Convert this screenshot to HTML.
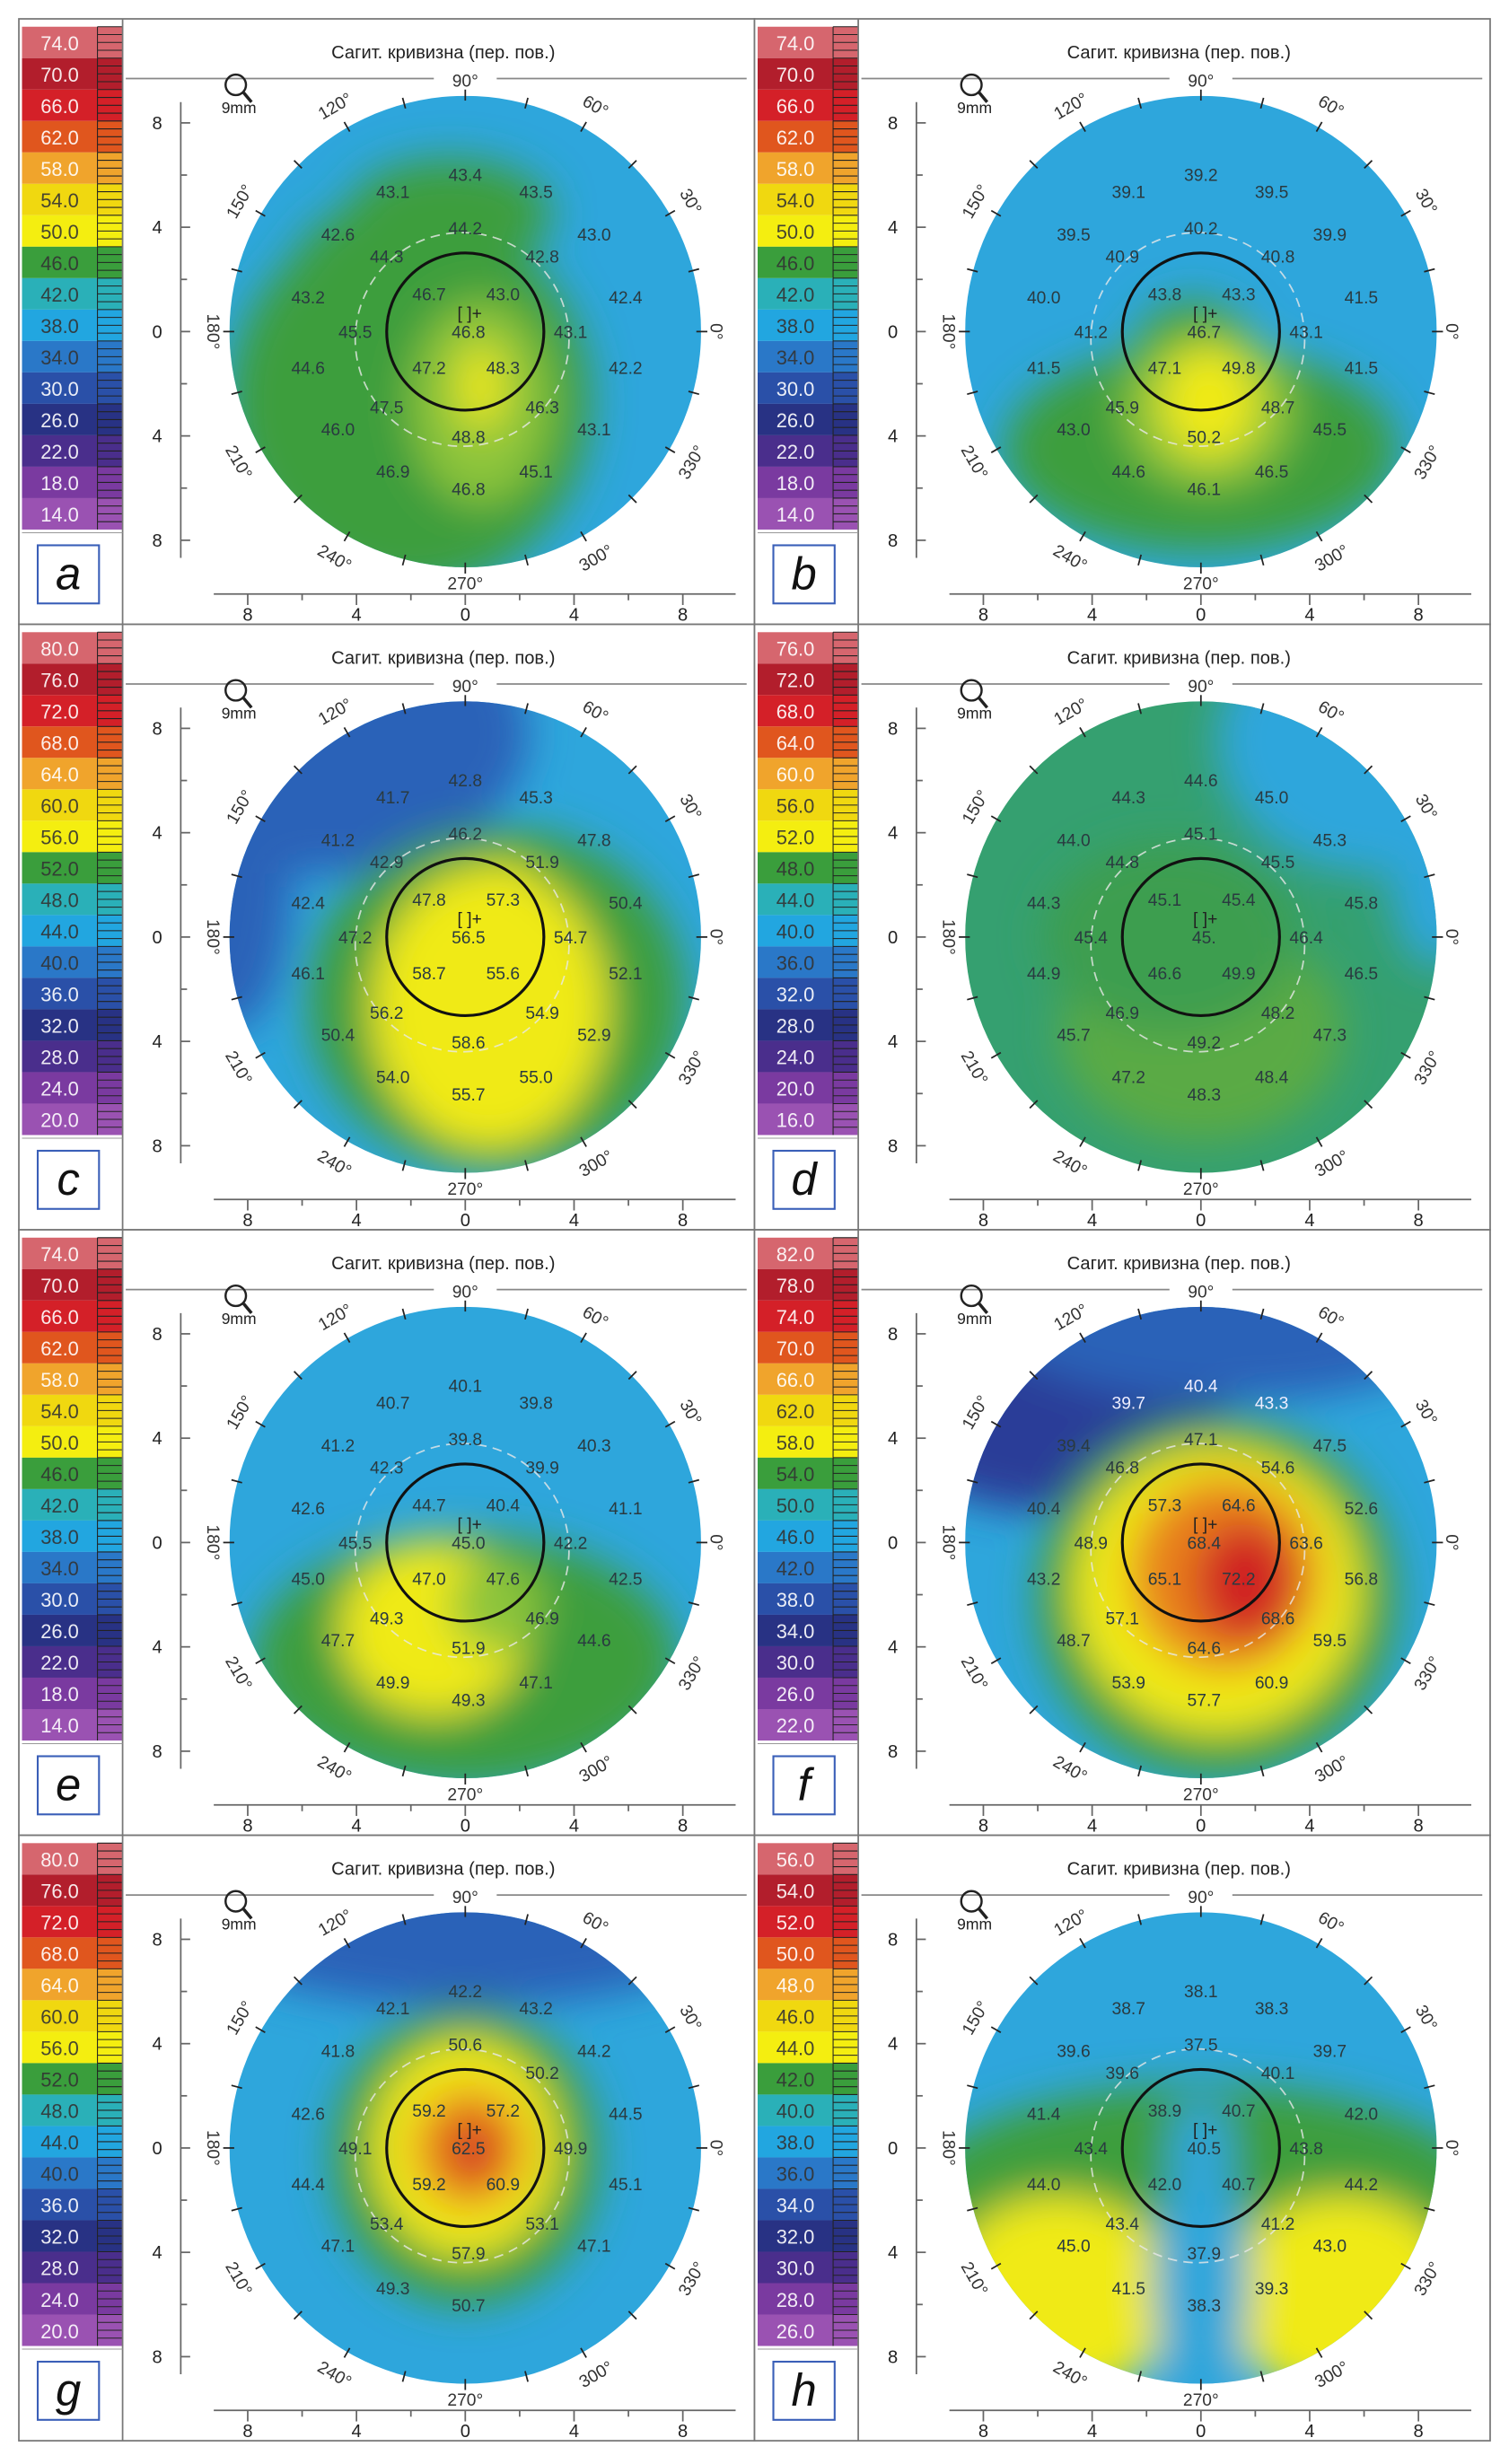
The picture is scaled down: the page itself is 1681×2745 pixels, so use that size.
<!DOCTYPE html>
<html><head><meta charset="utf-8"><style>
html,body{margin:0;padding:0;background:#fff}
svg{display:block}
text{font-family:"Liberation Sans","DejaVu Sans",sans-serif}
</style></head><body>
<svg id="s" width="1681" height="2745" viewBox="0 0 960 1568" preserveAspectRatio="none" xmlns="http://www.w3.org/2000/svg">
<defs><filter id="bl" x="-30%" y="-30%" width="160%" height="160%"><feGaussianBlur stdDeviation="13"/></filter></defs>
<g id="root"></g>
</svg>
<script>
const cols=['#d6666e','#b21e2c','#d42028','#e0561e','#f0a42c','#f0d810','#f4ee10','#3a9e3c','#2ab0b8','#22a6e0','#2a78c8','#2a50a8','#283284','#4a2e8c','#7a3aa0','#9a52b2'];
const off=[[0,-100],[-46,-89],[45,-89],[0,-66],[-81,-62],[82,-62],[-50,-48],[49,-48],[-100,-22],[-23,-24],[24,-24],[102,-22],[-70,0],[2,0],[67,0],[-100,23],[-23,23],[24,23],[102,23],[-50,48],[49,48],[-81,62],[2,67],[82,62],[-46,89],[45,89],[2,100]];
const B='#2ea6dc',G='#3c9e3e',Y='#f0ea14',YG='#8cc43a',O='#e8801e',R='#d02220',N='#2a3e98',DB='#2a62b8',TG='#35a070';
const P=[
 {top:74,step:4,L:'a',base:B,blobs:[[-35,45,115,120,G],[-10,-75,65,35,G],[-60,-20,55,60,G],[15,10,25,30,G],[10,45,45,65,YG],[10,35,14,28,Y]],
  v:['43.4','43.1','43.5','44.2','42.6','43.0','44.3','42.8','43.2','46.7','43.0','42.4','45.5','46.8','43.1','44.6','47.2','48.3','42.2','47.5','46.3','46.0','48.8','43.1','46.9','45.1','46.8']},
 {top:74,step:4,L:'b',base:B,blobs:[[0,75,125,65,G],[-5,15,38,35,G],[5,50,55,50,YG],[5,45,30,35,Y]],
  v:['39.2','39.1','39.5','40.2','39.5','39.9','40.9','40.8','40.0','43.8','43.3','41.5','41.2','46.7','43.1','41.5','47.1','49.8','41.5','45.9','48.7','43.0','50.2','45.5','44.6','46.5','46.1']},
 {top:80,step:4,L:'c',base:B,blobs:[[-90,-130,130,90,DB],[-150,-40,40,100,DB],[20,40,120,110,G],[15,45,75,90,Y],[25,-10,28,38,Y]],
  v:['42.8','41.7','45.3','46.2','41.2','47.8','42.9','51.9','42.4','47.8','57.3','50.4','47.2','56.5','54.7','46.1','58.7','55.6','52.1','56.2','54.9','50.4','58.6','52.9','54.0','55.0','55.7']},
 {top:76,step:4,L:'d',base:TG,blobs:[[110,-125,100,85,B],[150,-40,30,60,B],[0,60,90,70,'#5aaa44'],[-20,0,80,60,'#3c9e50']],
  v:['44.6','44.3','45.0','45.1','44.0','45.3','44.8','45.5','44.3','45.1','45.4','45.8','45.4','45.','46.4','44.9','46.6','49.9','46.5','46.9','48.2','45.7','49.2','47.3','47.2','48.4','48.3']},
 {top:74,step:4,L:'e',base:B,blobs:[[0,75,135,80,G],[-20,55,60,55,Y],[20,40,30,30,YG]],
  v:['40.1','40.7','39.8','39.8','41.2','40.3','42.3','39.9','42.6','44.7','40.4','41.1','45.5','45.0','42.2','45.0','47.0','47.6','42.5','49.3','46.9','47.7','51.9','44.6','49.9','47.1','49.3']},
 {top:82,step:4,L:'f',base:B,blobs:[[-100,-110,120,90,N],[20,-150,160,60,DB],[10,35,115,115,G],[10,30,92,92,Y],[15,20,60,62,O],[28,25,32,38,R]],
  v:['40.4','39.7','43.3','47.1','39.4','47.5','46.8','54.6','40.4','57.3','64.6','52.6','48.9','68.4','63.6','43.2','65.1','72.2','56.8','57.1','68.6','48.7','64.6','59.5','53.9','60.9','57.7']},
 {top:80,step:4,L:'g',base:B,blobs:[[0,-165,200,75,DB],[0,5,85,95,G],[0,0,60,70,Y],[3,0,35,38,O],[5,2,15,18,R]],
  v:['42.2','42.1','43.2','50.6','41.8','44.2','','50.2','42.6','59.2','57.2','44.5','49.1','62.5','49.9','44.4','59.2','60.9','45.1','53.4','53.1','47.1','57.9','47.1','49.3','','50.7']},
 {top:56,step:2,L:'h',base:B,blobs:[[0,30,180,70,G],[-90,95,75,65,Y],[90,95,75,65,Y],[0,85,30,80,B],[0,0,20,30,B]],
  v:['38.1','38.7','38.3','37.5','39.6','39.7','39.6','40.1','41.4','38.9','40.7','42.0','43.4','40.5','43.8','44.0','42.0','40.7','44.2','43.4','41.2','45.0','37.9','43.0','41.5','39.3','38.3']}
];
let h='';
P.forEach((p,i)=>{
 const ox=i%2?480:12, oy=12+Math.floor(i/2)*385.3;
 const cx=ox+284, cy=oy+199, r=150;
 h+=`<rect x="${ox}" y="${oy}" width="468" height="385.3" fill="#fff" stroke="#777" stroke-width="1"/>`;
 for(let k=0;k<16;k++){const y=oy+5+k*20;
  h+=`<rect x="${ox+2}" y="${y}" width="48" height="20" fill="${cols[k]}"/>`;
  h+=`<rect x="${ox+50}" y="${y}" width="16" height="20" fill="${cols[k]}"/>`;
  for(let t=0;t<4;t++)h+=`<line x1="${ox+50}" x2="${ox+66}" y1="${y+t*5}" y2="${y+t*5}" stroke="#222" stroke-width="0.6"/>`;
  h+=`<line x1="${ox+50}" x2="${ox+50}" y1="${y}" y2="${y+20}" stroke="#222" stroke-width="0.6"/>`;
  const v=(p.top-k*p.step).toFixed(1);
  h+=`<text x="${ox+26}" y="${y+15}" font-size="12.5" text-anchor="middle" fill="${k<5||k>10?'#fff':'#333'}" fill-opacity="0.9">${v}</text>`;}
 h+=`<line x1="${ox+66}" x2="${ox+66}" y1="${oy}" y2="${oy+385}" stroke="#777"/>`;
 h+=`<line x1="${ox+2}" x2="${ox+66}" y1="${oy+327}" y2="${oy+327}" stroke="#999" stroke-width="0.6"/>`;
 h+=`<rect x="${ox+12}" y="${oy+335}" width="39" height="37" fill="#fff" stroke="#3a5fb8" stroke-width="1.2"/>`;
 h+=`<text x="${ox+31.5}" y="${oy+363}" font-size="29" font-style="italic" text-anchor="middle" fill="#111">${p.L}</text>`;
 h+=`<text x="${ox+270}" y="${oy+25}" font-size="11.5" text-anchor="middle" fill="#222">Сагит. кривизна (пер. пов.)</text>`;
 h+=`<line x1="${ox+68}" x2="${cx-20}" y1="${oy+38}" y2="${oy+38}" stroke="#888"/><line x1="${cx+20}" x2="${ox+463}" y1="${oy+38}" y2="${oy+38}" stroke="#888"/>`;
 h+=`<clipPath id="c${i}"><circle cx="${cx}" cy="${cy}" r="${r}"/></clipPath>`;
 h+=`<g clip-path="url(#c${i})"><rect x="${cx-r}" y="${cy-r}" width="${2*r}" height="${2*r}" fill="${p.base}"/><g filter="url(#bl)">`;
 p.blobs.forEach(b=>{h+=`<ellipse cx="${cx+b[0]}" cy="${cy+b[1]}" rx="${b[2]}" ry="${b[3]}" fill="${b[4]}"/>`});
 h+=`</g></g>`;
 for(let a=0;a<360;a+=15){const t=a*Math.PI/180,c=Math.cos(t),s=-Math.sin(t);
  h+=`<line x1="${cx+c*(r-3)}" y1="${cy+s*(r-3)}" x2="${cx+c*(r+4)}" y2="${cy+s*(r+4)}" stroke="#222" stroke-width="1"/>`;}
 [[90,0],[270,0],[0,90],[180,90],[120,-30],[60,30],[150,-60],[30,60],[210,60],[330,-60],[240,30],[300,-30]].forEach(([a,rot])=>{
  const t=a*Math.PI/180,R2=(a%90==0)?160:166,x=cx+Math.cos(t)*R2,y=cy-Math.sin(t)*R2;
  h+=`<text x="${x}" y="${y+4}" font-size="11" text-anchor="middle" fill="#333" transform="rotate(${rot} ${x} ${y})">${a}°</text>`;});
 h+=`<circle cx="${cx-2}" cy="${cy+5}" r="68" fill="none" stroke="#e8e8e8" stroke-opacity="0.8" stroke-dasharray="6 4" stroke-width="1"/>`;
 h+=`<circle cx="${cx}" cy="${cy}" r="50" fill="none" stroke="#111" stroke-width="1.8"/>`;
 p.v.forEach((v,k)=>{if(!v)return;const o=off[k];
  h+=`<text x="${cx+o[0]}" y="${cy+o[1]+4}" font-size="11" text-anchor="middle" fill="${i==5&&k<3?'#eef':'#2a3a40'}">${v}</text>`;});
 h+=`<text x="${cx-5}" y="${cy-8}" font-size="11" fill="#222">[ ]+</text>`;
 h+=`<circle cx="${cx-146}" cy="${cy-157}" r="6.5" fill="none" stroke="#222" stroke-width="1.4"/><line x1="${cx-141}" y1="${cy-152}" x2="${cx-136}" y2="${cy-146}" stroke="#222" stroke-width="2"/>`;
 h+=`<text x="${cx-144}" y="${cy-139}" font-size="10" text-anchor="middle" fill="#222">9mm</text>`;
 h+=`<line x1="${cx-181}" x2="${cx-181}" y1="${cy-146}" y2="${cy+144}" stroke="#666"/>`;
 [-8,-6,-4,-2,0,2,4,6,8].forEach(v=>{const y=cy+v*16.6;
  h+=`<line x1="${cx-181}" x2="${cx-(v%4?177:175)}" y1="${y}" y2="${y}" stroke="#666"/>`;
  if(v%4==0)h+=`<text x="${cx-196}" y="${y+4}" font-size="11.5" text-anchor="middle" fill="#222">${Math.abs(v)}</text>`;});
 h+=`<line x1="${cx-160}" x2="${cx+172}" y1="${cy+167}" y2="${cy+167}" stroke="#666"/>`;
 [-8,-6,-4,-2,0,2,4,6,8].forEach(v=>{const x=cx+v*17.3;
  h+=`<line x1="${x}" x2="${x}" y1="${cy+167}" y2="${cy+(v%4?171:174)}" stroke="#666"/>`;
  if(v%4==0)h+=`<text x="${x}" y="${cy+184}" font-size="11.5" text-anchor="middle" fill="#222">${Math.abs(v)}</text>`;});
});
document.getElementById('root').innerHTML=h;
</script>
</body></html>
